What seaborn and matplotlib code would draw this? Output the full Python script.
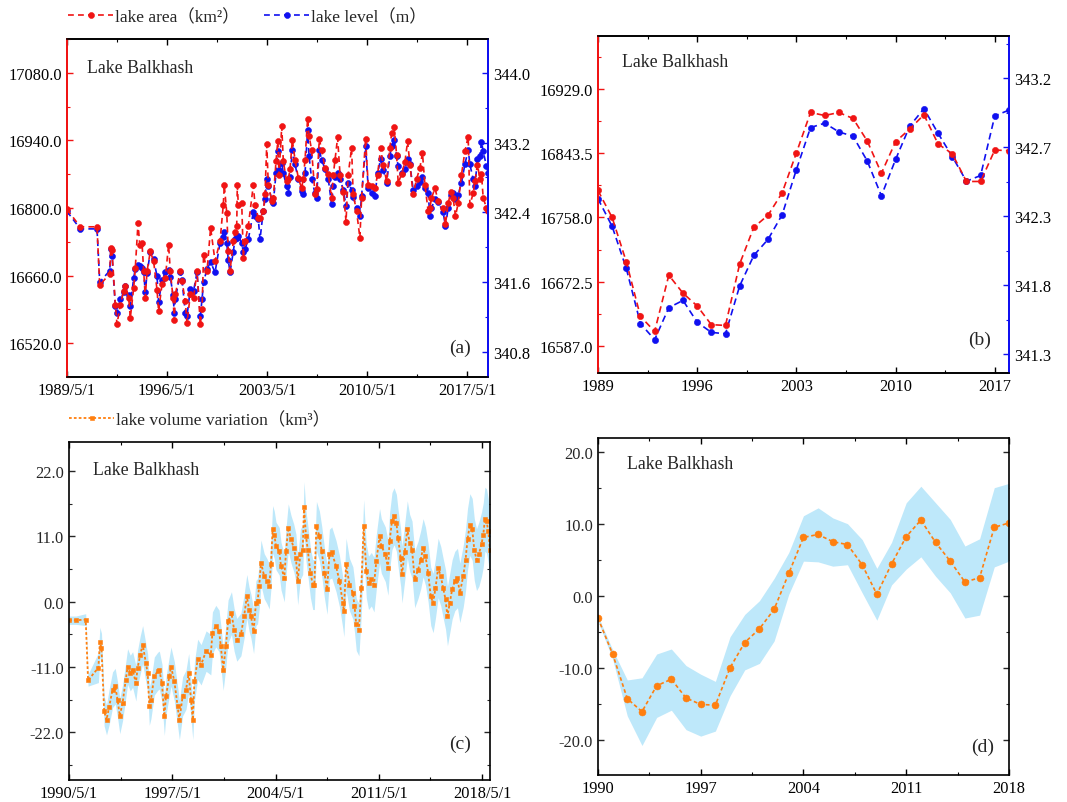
import numpy as np
import matplotlib
matplotlib.use('Agg')
import matplotlib.pyplot as plt
import seaborn as sns
from matplotlib.ticker import FixedLocator

# ---- (a) monthly lake area / lake level ----
a_dates = [1989.33, 1990.26, 1991.43, 1991.62, 1992.32, 1992.40, 1992.48, 1992.71, 1992.83, 1993.06,
           1993.30, 1993.41, 1993.65, 1993.76, 1994.00, 1994.11, 1994.30, 1994.42, 1994.58, 1994.70,
           1994.81, 1994.93, 1995.16, 1995.39, 1995.63, 1995.74, 1995.98, 1996.21, 1996.44, 1996.56,
           1996.75, 1996.84, 1996.91, 1997.26, 1997.38, 1997.61, 1997.73, 1997.96, 1998.19, 1998.43,
           1998.66, 1998.78, 1998.89, 1999.13, 1999.38, 1999.69, 2000.04, 2000.27, 2000.34, 2000.51,
           2000.62, 2000.74, 2000.97, 2001.09, 2001.21, 2001.25, 2001.32, 2001.56, 2001.67, 2001.79,
           2002.02, 2002.37, 2002.49, 2002.72, 2002.84, 2003.07, 2003.19, 2003.31, 2003.42, 2003.66,
           2003.77, 2003.96, 2004.08, 2004.17, 2004.36, 2004.47, 2004.70, 2004.82, 2004.94, 2005.10,
           2005.29, 2005.52, 2005.75, 2005.87, 2005.99, 2006.17, 2006.27, 2006.45, 2006.69, 2006.80,
           2006.99, 2007.15, 2007.39, 2007.62, 2007.85, 2007.97, 2008.09, 2008.27, 2008.44, 2008.67,
           2008.86, 2009.01, 2009.25, 2009.36, 2009.60, 2009.83, 2009.95, 2010.23, 2010.41, 2010.65,
           2010.88, 2011.07, 2011.28, 2011.46, 2011.70, 2011.93, 2012.05, 2012.23, 2012.40, 2012.51,
           2012.75, 2012.98, 2013.17, 2013.33, 2013.56, 2013.80, 2014.03, 2014.21, 2014.38, 2014.61,
           2014.73, 2014.84, 2015.08, 2015.31, 2015.66, 2015.82, 2016.01, 2016.20, 2016.36, 2016.52,
           2016.71, 2016.94, 2017.18, 2017.41, 2017.53, 2017.76, 2017.88, 2018.06, 2018.23, 2018.34,
           2018.46, 2018.69, 2018.81]
a_area = [16797, 16761, 16761, 16640, 16664, 16717, 16712, 16600, 16559, 16600,
          16628, 16639, 16614, 16572, 16635, 16676, 16769, 16724, 16727, 16669,
          16614, 16669, 16710, 16690, 16631, 16586, 16642, 16655, 16724, 16669,
          16614, 16567, 16621, 16669, 16648, 16607, 16562, 16621, 16614, 16669,
          16559, 16590, 16703, 16669, 16759, 16690, 16731, 16807, 16847, 16790,
          16710, 16669, 16731, 16750, 16763, 16847, 16807, 16810, 16697, 16731,
          16763, 16847, 16807, 16779, 16779, 16793, 16828, 16932, 16848, 16814,
          16820, 16897, 16938, 16869, 16969, 16897, 16855, 16860, 16880, 16941,
          16900, 16862, 16841, 16860, 16900, 16985, 16950, 16920, 16828, 16840,
          16943, 16920, 16883, 16870, 16821, 16869, 16900, 16946, 16869, 16834,
          16772, 16869, 16924, 16828, 16793, 16738, 16821, 16943, 16848, 16845,
          16841, 16869, 16924, 16890, 16855, 16924, 16955, 16967, 16910, 16852,
          16870, 16895, 16938, 16890, 16828, 16860, 16883, 16914, 16848, 16793,
          16800, 16820, 16841, 16815, 16800, 16766, 16810, 16834, 16820, 16783,
          16810, 16869, 16917, 16948, 16807, 16830, 16855, 16890, 16860, 16870,
          16821, 16800, 16793]
a_level = [342.41, 342.21, 342.21, 341.60, 341.73, 341.98, 341.90, 341.33, 341.25, 341.40,
           341.48, 341.56, 341.45, 341.33, 341.65, 341.75, 341.79, 341.78, 341.76, 341.71,
           341.48, 341.70, 341.94, 341.86, 341.67, 341.37, 341.62, 341.71, 341.74, 341.66,
           341.45, 341.25, 341.40, 341.71, 341.62, 341.25, 341.21, 341.52, 341.50, 341.71,
           341.21, 341.40, 341.60, 341.75, 341.83, 341.71, 342.05, 342.12, 342.17, 342.05,
           341.85, 341.71, 341.95, 342.09, 342.10, 342.13, 342.13, 342.05, 341.94, 341.98,
           342.09, 342.40, 342.36, 342.32, 342.09, 342.42, 342.55, 342.78, 342.70, 342.55,
           342.51, 342.85, 343.10, 342.89, 342.97, 342.85, 342.70, 342.62, 342.80, 343.12,
           342.95, 342.78, 342.65, 342.61, 342.85, 343.34, 343.05, 342.78, 342.62, 342.57,
           343.12, 343.00, 342.90, 342.78, 342.49, 342.70, 342.81, 342.85, 342.78, 342.66,
           342.47, 342.74, 342.66, 342.58, 342.45, 342.36, 342.59, 343.16, 342.68, 342.62,
           342.59, 342.85, 343.01, 342.89, 342.74, 343.05, 343.16, 343.23, 343.05, 342.93,
           342.85, 342.90, 343.01, 342.95, 342.66, 342.70, 342.75, 342.80, 342.68, 342.62,
           342.36, 342.45, 342.55, 342.52, 342.40, 342.24, 342.45, 342.60, 342.62, 342.55,
           342.60, 342.74, 342.95, 343.12, 342.95, 342.78, 342.70, 343.01, 343.05, 343.21,
           343.10, 342.93, 342.85]

# ---- (b) annual lake area / lake level ----
b_years = list(range(1989, 2019))
b_area = [16794, 16758, 16699, 16626, 16606, 16681, 16657, 16640, 16615, 16614,
          16696, 16745, 16761, 16791, 16844, 16898, 16894, 16898, 16890, 16860,
          16817, 16859, 16876, 16895, 16856, 16843, 16806, 16806, 16848, 16847]
b_level = [342.37, 342.18, 341.89, 341.51, 341.40, 341.62, 341.67, 341.52, 341.45, 341.44,
           341.77, 341.98, 342.09, 342.26, 342.57, 342.86, 342.89, 342.83, 342.80, 342.63,
           342.39, 342.64, 342.87, 342.99, 342.82, 342.66, 342.49, 342.53, 342.94, 342.98]

# ---- (c) monthly lake volume variation ----
c_dates = [1990.33, 1990.80, 1991.46, 1991.62, 1992.32, 1992.42, 1992.53, 1992.71, 1992.87, 1993.05,
           1993.28, 1993.46, 1993.62, 1993.77, 1993.96, 1994.18, 1994.30, 1994.48, 1994.64, 1994.86,
           1994.98, 1995.16, 1995.32, 1995.54, 1995.66, 1995.77, 1995.88, 1996.11, 1996.34, 1996.45,
           1996.63, 1996.79, 1996.90, 1997.13, 1997.24, 1997.47, 1997.69, 1997.81, 1998.03, 1998.26,
           1998.44, 1998.60, 1998.72, 1998.83, 1999.05, 1999.28, 1999.62, 1999.94, 2000.05, 2000.28,
           2000.50, 2000.62, 2000.78, 2000.96, 2001.11, 2001.34, 2001.52, 2001.70, 2001.98, 2002.20,
           2002.38, 2002.54, 2002.66, 2002.84, 2003.00, 2003.11, 2003.22, 2003.34, 2003.56, 2003.74,
           2003.90, 2004.02, 2004.13, 2004.24, 2004.36, 2004.58, 2004.70, 2004.92, 2005.04, 2005.19,
           2005.38, 2005.56, 2005.71, 2005.83, 2006.01, 2006.17, 2006.26, 2006.39, 2006.51, 2006.69,
           2006.85, 2006.96, 2007.10, 2007.30, 2007.46, 2007.64, 2007.82, 2007.98, 2008.14, 2008.43,
           2008.66, 2008.89, 2008.96, 2009.11, 2009.34, 2009.57, 2009.68, 2009.80, 2009.98, 2010.14,
           2010.30, 2010.48, 2010.63, 2010.82, 2011.00, 2011.16, 2011.38, 2011.50, 2011.77, 2011.95,
           2012.06, 2012.22, 2012.36, 2012.52, 2012.63, 2012.81, 2012.90, 2013.08, 2013.26, 2013.42,
           2013.58, 2013.76, 2013.99, 2014.17, 2014.33, 2014.49, 2014.67, 2014.85, 2015.01, 2015.17,
           2015.35, 2015.53, 2015.69, 2015.85, 2015.98, 2016.14, 2016.30, 2016.48, 2016.66, 2016.82,
           2017.05, 2017.21, 2017.34, 2017.50, 2017.66, 2017.80, 2017.95, 2018.11, 2018.29, 2018.41,
           2018.52, 2018.63, 2018.75, 2018.86]
c_volume = [-3.1, -3.1, -3.0, -13.2, -11.1, -6.8, -7.8, -18.4, -19.9, -17.7,
            -14.8, -14.2, -16.5, -19.2, -17.0, -13.1, -10.9, -12.0, -11.4, -13.7,
            -11.1, -8.9, -7.2, -10.3, -12.0, -17.6, -16.5, -12.5, -11.7, -11.5,
            -13.7, -19.3, -15.9, -12.5, -10.9, -13.4, -17.6, -19.9, -15.9, -14.8,
            -12.0, -16.5, -19.9, -13.4, -9.7, -10.6, -8.3, -8.9, -5.2, -4.1,
            -4.9, -7.5, -11.4, -7.5, -3.3, -1.9, -4.7, -6.4, -5.5, -2.4,
            0.9, -1.3, -2.4, -5.0, -0.2, 0.1, 2.6, 6.6, 4.3, 3.5,
            2.6, 6.3, 12.2, 11.3, 9.4, 8.5, 6.0, 4.0, 8.5, 12.5,
            10.5, 9.1, 7.4, 3.5, 8.0, 8.8, 16.0, 11.1, 8.8, 4.9,
            2.9, 2.9, 12.7, 11.1, 8.5, 4.9, 2.1, 8.0, 8.3, 6.0,
            3.5, -0.2, -1.6, 6.3, 2.9, 1.5, -0.7, -3.8, -4.7, 2.3,
            12.7, 5.2, 3.2, 3.8, 2.9, 6.8, 11.1, 9.4, 8.0, 5.7,
            10.2, 13.6, 14.4, 13.3, 10.8, 7.4, 4.6, 8.3, 12.2, 9.9,
            8.8, 3.8, 5.4, 7.1, 9.1, 7.7, 4.9, 0.9, -0.2, 2.3,
            5.7, 4.3, 2.3, 0.4, -2.4, -0.2, 2.1, 3.5, 4.0, 1.5,
            4.3, 7.1, 10.5, 13.0, 12.2, 8.8, 7.1, 8.0, 9.7, 11.3,
            13.9, 13.6, 11.9, 8.8]
# half width of the uncertainty band, one value per calendar year 1990..2018
c_err_years = list(range(1990, 2019))
c_err = [0.7, 1.0, 2.5, 3.0, 3.0, 3.2, 3.2, 3.3, 3.3, 3.4,
         3.5, 3.6, 3.7, 3.8, 4.0, 4.0, 4.2, 4.2, 4.3, 4.4,
         4.5, 4.6, 4.8, 4.8, 4.9, 5.0, 5.0, 5.2, 5.4]

# ---- (d) annual lake volume variation ----
d_years = list(range(1990, 2019))
d_volume = [-3.1, -8.1, -14.3, -16.1, -12.5, -11.6, -14.2, -15.1, -15.2, -10.0,
            -6.5, -4.6, -1.9, 3.1, 8.1, 8.5, 7.5, 7.1, 4.3, 0.2,
            4.4, 8.2, 10.5, 7.4, 4.8, 1.9, 2.5, 9.5, 10.1]
d_upper = [-2.8, -7.5, -11.7, -11.4, -8.1, -7.4, -9.7, -10.9, -11.9, -5.7,
           -2.6, -0.7, 2.4, 6.0, 11.1, 12.2, 10.8, 10.0, 7.8, 3.8,
           7.4, 12.9, 15.2, 12.9, 10.6, 6.9, 7.9, 15.0, 15.6]
d_lower = [-3.5, -8.8, -16.7, -20.8, -16.9, -15.9, -18.6, -19.5, -18.8, -13.9,
           -10.3, -9.4, -6.3, 0.2, 4.8, 4.7, 4.1, 4.3, 0.4, -3.4,
           1.5, 3.7, 5.4, 2.7, 0.4, -3.1, -2.7, 4.0, 4.8]

RED = '#F01414'
BLUE = '#1010F0'
ORANGE = '#FF7F0F'
BAND = '#BEE8FA'
TICK_FS = 11.8

sns.set_theme(style='ticks')
plt.rcParams['font.family'] = ['Liberation Serif', 'Noto Sans CJK SC']
plt.rcParams['axes.linewidth'] = 1.2
plt.rcParams['axes.edgecolor'] = 'black'

fig = plt.figure(figsize=(10.67, 8.03), dpi=100)
ax_a = fig.add_axes([0.0628, 0.5293, 0.3946, 0.4209])
ax_b = fig.add_axes([0.5604, 0.5342, 0.3852, 0.4197])
ax_c = fig.add_axes([0.0647, 0.0274, 0.3946, 0.4209])
ax_d = fig.add_axes([0.5604, 0.0336, 0.3852, 0.4197])


def minor_between(ticks):
    step = ticks[1] - ticks[0]
    return np.arange(ticks[0] - step / 2, ticks[-1] + step, step)


def setup_x(ax, ticks, labels, lim):
    ax.set_xlim(*lim)
    ax.set_xticks(ticks, labels)
    ax.xaxis.set_minor_locator(FixedLocator(minor_between(ticks)))
    ax.set_xlabel('')
    ax.tick_params(axis='x', which='both', direction='in', top=True, bottom=True,
                   labelsize=TICK_FS, colors='black')


def setup_y(ax, ticks, labels, lim):
    ax.set_ylim(*lim)
    ax.set_yticks(ticks, labels)
    ax.yaxis.set_minor_locator(FixedLocator(minor_between(ticks)))
    ax.set_ylabel('')


def line(ax, x, y, color, ls, marker, ms, lw=1.2):
    sns.lineplot(x=x, y=y, ax=ax, color=color, linestyle=ls, lw=lw, marker=marker,
                 markersize=ms, mec=color, mew=0.4, estimator=None, sort=False,
                 errorbar=None)
    return ax.lines[-1]


def dual_style(ax, ax2):
    for a in (ax, ax2):
        a.spines['left'].set_color(RED)
        a.spines['right'].set_color(BLUE)
        a.spines['left'].set_linewidth(1.4)
        a.spines['right'].set_linewidth(1.4)
    ax.tick_params(axis='y', which='both', direction='in', left=True, right=False,
                   colors=RED, labelcolor='black', labelsize=TICK_FS)
    ax2.tick_params(axis='y', which='both', direction='in', right=True, left=False,
                    colors=BLUE, labelcolor='black', labelsize=TICK_FS)
    ax.set_zorder(ax2.get_zorder() + 1)
    ax.patch.set_visible(False)


# ---------- (a) ----------
ax_a2 = ax_a.twinx()
h_level = line(ax_a2, a_dates, a_level, BLUE, (0, (3.5, 2.5)), 'o', 4.3)
h_area = line(ax_a, a_dates, a_area, RED, (0, (3.5, 2.5)), 'o', 4.3)
setup_x(ax_a, [1989.33, 1996.33, 2003.33, 2010.33, 2017.33],
        ['1989/5/1', '1996/5/1', '2003/5/1', '2010/5/1', '2017/5/1'], (1989.33, 2018.8))
setup_y(ax_a, [16520, 16660, 16800, 16940, 17080],
        ['16520.0', '16660.0', '16800.0', '16940.0', '17080.0'], (16450, 17150))
setup_y(ax_a2, [340.8, 341.6, 342.4, 343.2, 344.0],
        ['340.8', '341.6', '342.4', '343.2', '344.0'], (340.51, 344.39))
dual_style(ax_a, ax_a2)

# ---------- (b) ----------
ax_b2 = ax_b.twinx()
line(ax_b2, b_years, b_level, BLUE, (0, (4, 2.5)), 'o', 4.5)
line(ax_b, b_years, b_area, RED, (0, (4, 2.5)), 'o', 4.5)
setup_x(ax_b, [1989, 1996, 2003, 2010, 2017],
        ['1989', '1996', '2003', '2010', '2017'], (1989, 2018))
setup_y(ax_b, [16587.0, 16672.5, 16758.0, 16843.5, 16929.0],
        ['16587.0', '16672.5', '16758.0', '16843.5', '16929.0'], (16550.5, 17000))
setup_y(ax_b2, [341.3, 341.775, 342.25, 342.725, 343.2],
        ['341.3', '341.8', '342.3', '342.7', '343.2'], (341.17, 343.49))
dual_style(ax_b, ax_b2)

# ---------- (c) ----------
c_half = [c_err[c_err_years.index(min(max(int(t), 1990), 2018))] for t in c_dates]
c_lo = [v - e for v, e in zip(c_volume, c_half)]
c_hi = [v + e for v, e in zip(c_volume, c_half)]
ax_c.fill_between(c_dates, c_lo, c_hi, color=BAND, lw=0)
h_vol = line(ax_c, c_dates, c_volume, ORANGE, (0, (1.5, 1.2)), 's', 3.2, lw=1.3)
setup_x(ax_c, [1990.33, 1997.33, 2004.33, 2011.33, 2018.33],
        ['1990/5/1', '1997/5/1', '2004/5/1', '2011/5/1', '2018/5/1'], (1990.33, 2018.87))
setup_y(ax_c, [-22, -11, 0, 11, 22], ['-22.0', '-11.0', '0.0', '11.0', '22.0'], (-30.0, 26.9))
ax_c.tick_params(axis='y', which='both', direction='in', left=True, right=True, labelsize=TICK_FS)

# ---------- (d) ----------
ax_d.fill_between(d_years, d_lower, d_upper, color=BAND, lw=0)
line(ax_d, d_years, d_volume, ORANGE, (0, (2.2, 1.6)), 'o', 5, lw=1.2)
setup_x(ax_d, [1990, 1997, 2004, 2011, 2018], ['1990', '1997', '2004', '2011', '2018'], (1990, 2018))
setup_y(ax_d, [-20, -10, 0, 10, 20], ['-20.0', '-10.0', '0.0', '10.0', '20.0'], (-24.9, 21.9))
ax_d.tick_params(axis='y', which='both', direction='in', left=True, right=True, labelsize=TICK_FS)

for ax in (ax_a, ax_a2, ax_b, ax_b2, ax_c, ax_d):
    ax.tick_params(which='major', length=4.5, width=1)
    ax.tick_params(which='minor', length=2.5, width=0.8)

# titles and panel letters
spots = [(ax_a, 0.048, 0.917, '(a)', 0.933, 0.089),
         (ax_b, 0.058, 0.923, '(b)', 0.929, 0.100),
         (ax_c, 0.057, 0.920, '(c)', 0.929, 0.107),
         (ax_d, 0.071, 0.923, '(d)', 0.937, 0.086)]
for ax, tx, ty, lab, lx, ly in spots:
    ax.text(tx, ty, 'Lake Balkhash', transform=ax.transAxes, fontsize=12.8,
            ha='left', va='center', zorder=10)
    ax.text(lx, ly, lab, transform=ax.transAxes, fontsize=14,
            ha='center', va='center', zorder=10)

fig.legend(handles=[h_area, h_level], labels=['lake area（km²）', 'lake level（m）'],
           loc='center left', bbox_to_anchor=(0.064, 0.978), ncol=2, frameon=False,
           fontsize=12.5, handlelength=2.6, handletextpad=0.1, columnspacing=1.4,
           borderaxespad=0, borderpad=0)
fig.legend(handles=[h_vol], labels=['lake volume variation（km³）'],
           loc='center left', bbox_to_anchor=(0.065, 0.476), frameon=False,
           fontsize=12.5, handlelength=2.6, handletextpad=0.1,
           borderaxespad=0, borderpad=0)

fig.savefig('out.png', dpi=100)
